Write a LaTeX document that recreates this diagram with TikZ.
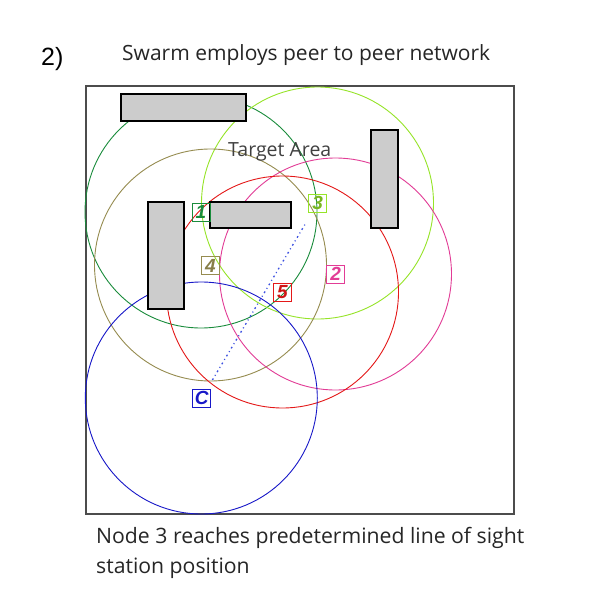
\documentclass[tikz,border=0pt]{standalone}
\usepackage{fontspec}
\newfontfamily\handfont{Open Sans}
\newfontfamily\labfont{Liberation Sans}
\definecolor{cone}{RGB}{26,140,60}
\definecolor{ctwo}{RGB}{226,60,150}
\definecolor{cthree}{RGB}{150,228,40}
\definecolor{cfour}{RGB}{150,140,80}
\definecolor{cfive}{RGB}{228,24,24}
\definecolor{cc}{RGB}{24,24,200}
\definecolor{bldg}{RGB}{204,204,204}
\tikzset{
  rangec/.style={circle, draw, line width=0.9pt, minimum size=232pt, inner sep=0pt},
  building/.style={fill=bldg, draw=black, line width=1.2pt},
  lab/.style={draw, line width=0.8pt, minimum size=18pt, inner sep=0pt,
    font=\labfont\fontsize{19}{19}\selectfont\bfseries\itshape},
  handtext/.style={font=\handfont\fontsize{21}{25}\selectfont, text=black!85, inner sep=0pt}
}
\begin{document}
\begin{tikzpicture}[x=1pt,y=-1pt]
\useasboundingbox (0,0) rectangle (600,600);
\fill[white] (0,0) rectangle (600,600);
% frame
\node[draw=black!70, line width=1.4pt, minimum width=428pt, minimum height=428pt, inner sep=0pt] (frame) at (300,300) {};
% range circles
\node[rangec, draw=cone] (r1) at (201,212) {};
\node[rangec, draw=cthree] (r3) at (317.5,203) {};
\node[rangec, draw=cfour] (r4) at (210.5,265) {};
\node[rangec, draw=ctwo] (r2) at (335.5,274) {};
\node[rangec, draw=cfive] (r5) at (282.5,292) {};
\node[rangec, draw=cc] (rc) at (201.3,398) {};
% buildings
\draw[building] (121,94) rectangle (246,121);
\draw[building] (148,202) rectangle (184,309);
\draw[building] (210,202) rectangle (291,228);
\draw[building] (371,130) rectangle (398,228);
% labels
\node[lab, draw=cone, text=cone] (l1) at (201,212) {1};
\node[lab, draw=cthree, text=cthree!80!black] (l3) at (317.7,203) {3};
\node[lab, draw=cfour, text=cfour!90!black] (l4) at (210.5,265.5) {4};
\node[lab, draw=ctwo, text=ctwo] (l2) at (335.7,274.3) {2};
\node[lab, draw=cfive, text=cfive!90!black] (l5) at (282.3,292) {5};
\node[lab, draw=cc, text=cc] (lc) at (201.7,398) {C};
% line of sight
\draw[color={rgb,255:red,60;green,80;blue,225}, line width=1.3pt, dash pattern=on 1.8pt off 3.2pt on 1pt off 3.2pt, shorten <=10pt, shorten >=13pt] (lc) -- (l3);
% texts
\node[font=\labfont\fontsize{25}{25}\selectfont, anchor=base west, inner sep=0pt] (num) at (41,65) {2)};
\node[handtext, anchor=base west] (title) at (122,60) {Swarm employs peer to peer network};
\node[handtext, font=\handfont\fontsize{19.5}{20}\selectfont, text=black!75, anchor=base west] (target) at (228,156.5) {Target Area};
\node[handtext, font=\handfont\fontsize{21.2}{30}\selectfont, anchor=base west] (cap1) at (96,543) {Node 3 reaches predetermined line of sight};
\node[handtext, font=\handfont\fontsize{21.2}{30}\selectfont, anchor=base west] (cap2) at (96,573) {station position};
\end{tikzpicture}
\end{document}
